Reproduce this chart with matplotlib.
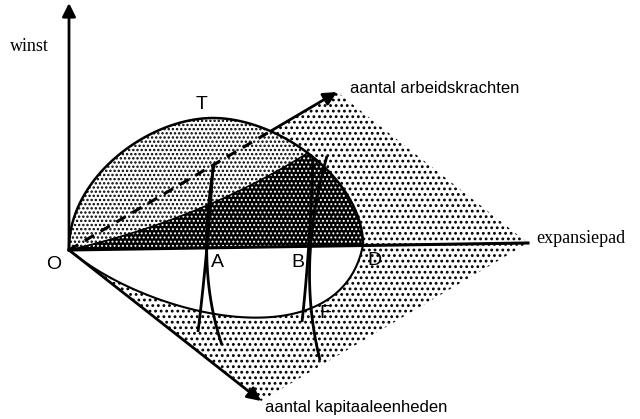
import numpy as np
import matplotlib
matplotlib.use("Agg")
import matplotlib.pyplot as plt
from matplotlib.patches import Polygon
from math import comb

# ---- geometry of the schematic (pixel space of the original picture) ----
origin = (69, 250)
winst_tip = (69, 3)
labour_tip = (337, 92)
capital_tip = (261, 401)
expansion_end = (528, 243)

# upper profit hill (O -> T -> D), two cubic Bezier pieces
upper_left_x = [69, 68, 148, 213]
upper_left_y = [250, 178, 118, 118]
upper_right_x = [213, 280, 363, 363]
upper_right_y = [118, 118, 180, 245]

# lower curve (O -> F -> D)
lower_x = [69, 150, 340, 363]
lower_y = [250, 318, 362, 245]

# dark region upper boundary (O -> meeting point on hill)
dark_meet_t = 0.47
dark_ctrl = (200, 220)

# curves A and B (quadratic Bezier: start, control, end)
curve_A1 = [(213, 165), (208, 250), (198, 332)]
curve_A2 = [(214, 165), (196, 270), (222, 345)]
curve_B1 = [(313, 158), (310, 250), (302, 322)]
curve_B2 = [(327, 156), (296, 265), (320, 360)]

labels = ["O", "A", "B", "D", "T", "F"]
label_pos = [(54, 264), (217, 262), (298, 262), (374, 260), (202, 104), (325, 313)]


def bez(px, py, n=120, t0=0.0, t1=1.0):
    t = np.linspace(t0, t1, n)
    px = np.asarray(px, float)
    py = np.asarray(py, float)
    k = len(px) - 1
    bx = sum(comb(k, i) * (1 - t) ** (k - i) * t ** i * px[i] for i in range(k + 1))
    by = sum(comb(k, i) * (1 - t) ** (k - i) * t ** i * py[i] for i in range(k + 1))
    return bx, by


fig = plt.figure(figsize=(6.4, 4.19), dpi=100)
ax = fig.add_axes([0, 0, 1, 1])
ax.set_xlim(0, 640)
ax.set_ylim(419, 0)
ax.axis("off")

# parallelogram (sparse dots)
plt.rcParams["hatch.linewidth"] = 1.25
para = [origin, labour_tip, expansion_end, capital_tip]
ax.add_patch(Polygon(para, closed=True, facecolor="white", edgecolor="black",
                     lw=0, hatch="...", zorder=1))

# lower white region
lx, ly = bez(lower_x, lower_y)
ax.add_patch(Polygon(np.column_stack([lx, ly]), closed=True, facecolor="white",
                     edgecolor="none", lw=0, zorder=2))

# axes arrows (labour and capital)
arrow_kw = dict(arrowstyle="-|>", lw=2.0, color="black", mutation_scale=20,
                shrinkA=0, shrinkB=0)
ax.annotate("", xy=labour_tip, xytext=origin, arrowprops=arrow_kw, zorder=3)
ax.annotate("", xy=capital_tip, xytext=origin, arrowprops=arrow_kw, zorder=3)

# upper hill (dense dots)
plt.rcParams["hatch.linewidth"] = 1.15
ulx, uly = bez(upper_left_x, upper_left_y)
urx, ury = bez(upper_right_x, upper_right_y)
hx = np.concatenate([ulx, urx[1:]])
hy = np.concatenate([uly, ury[1:]])
ax.add_patch(Polygon(np.column_stack([hx, hy]), closed=True, facecolor="white",
                     edgecolor="black", lw=0, hatch="....", zorder=4))

# dark region
plt.rcParams["hatch.linewidth"] = 0.9
mx, my = bez(upper_right_x, upper_right_y, n=1, t0=dark_meet_t, t1=dark_meet_t)
dbx, dby = bez([origin[0], dark_ctrl[0], mx[0]], [origin[1], dark_ctrl[1], my[0]])
rx, ry = bez(upper_right_x, upper_right_y, t0=dark_meet_t, t1=1.0)
dark_x = np.concatenate([dbx, rx[1:]])
dark_y = np.concatenate([dby, ry[1:]])
ax.add_patch(Polygon(np.column_stack([dark_x, dark_y]), closed=True,
                     facecolor="black", edgecolor="white", lw=0, hatch="....",
                     zorder=5))
ax.plot(dbx, dby, color="black", lw=1.2, zorder=6)

# dashed hidden part of labour axis
dash, = ax.plot([origin[0], labour_tip[0]], [origin[1], labour_tip[1]],
                color="black", lw=2.2, ls=(0, (3.5, 2.5)), zorder=6)
clip = Polygon(np.column_stack([hx, hy]), closed=True, transform=ax.transData)
dash.set_clip_path(clip)

# outlines
ax.plot(hx, hy, color="black", lw=1.8, zorder=7)
ax.plot(lx, ly, color="black", lw=1.5, zorder=7)
ax.plot([origin[0], expansion_end[0]], [origin[1], expansion_end[1]],
        color="black", lw=2.2, zorder=7)

# curves A and B
for c in (curve_A1, curve_A2, curve_B1, curve_B2):
    cx, cy = bez([p[0] for p in c], [p[1] for p in c])
    ax.plot(cx, cy, color="black", lw=2.0, zorder=8, solid_capstyle="butt")

# vertical axis
ax.annotate("", xy=winst_tip, xytext=origin, arrowprops=arrow_kw, zorder=8)

# texts
serif = "Liberation Serif"
sans = "Liberation Sans"
ax.text(10, 51, "winst", fontsize=13, family=serif, va="baseline", ha="left", zorder=9)
ax.text(536, 243, "expansiepad", fontsize=13, family=serif, va="baseline", ha="left", zorder=9)
ax.text(350, 93, "aantal arbeidskrachten", fontsize=12, family=sans, va="baseline",
        ha="left", zorder=9)
ax.text(265, 412, "aantal kapitaaleenheden", fontsize=12, family=sans, va="baseline",
        ha="left", zorder=9)
for lab, (x, y) in zip(labels, label_pos):
    ax.text(x, y, lab, fontsize=14, family=sans, ha="center", va="center", zorder=9)

fig.savefig("out.png", dpi=100)
